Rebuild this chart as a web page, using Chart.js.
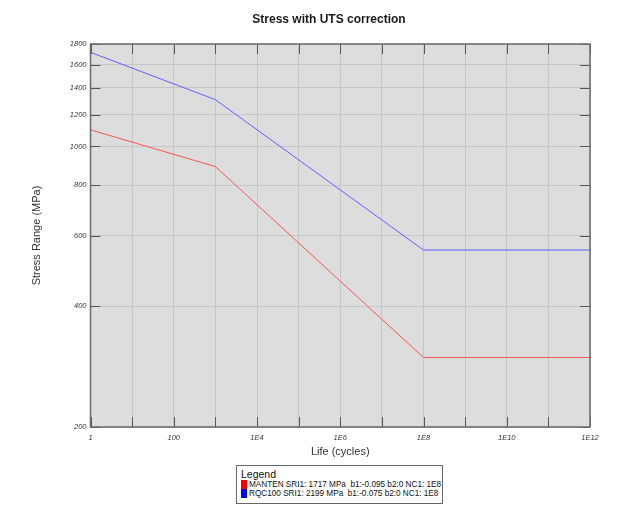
<!DOCTYPE html>
<html>
<head>
<meta charset="utf-8">
<title>Stress with UTS correction</title>
<script src="https://cdn.jsdelivr.net/npm/chart.js@4.4.1/dist/chart.umd.min.js"></script>
<style>
  body { margin: 0; background: #fff; font-family: "Liberation Sans", Arial, sans-serif; }
  #wrap { position: relative; width: 621px; height: 511px; }
  #legend {
    position: absolute; left: 236px; top: 465px; width: 205px; height: 37px;
    border: 1px solid #666; background: #fff; box-sizing: content-box;
  }
  #legend .head { font-size: 10.5px; color: #111; margin: 2px 0 0 4px; line-height: 12px; }
  #legend .row { display: flex; align-items: center; height: 9px; margin-left: 4px; }
  #legend .sw { flex: 0 0 6px; width: 6px; height: 9px; margin-right: 2px; }
  #legend .txt { font-size: 8.2px; color: #111; white-space: pre; line-height: 9px; }
</style>
</head>
<body>
<div id="wrap">
  <canvas id="snChart" width="621" height="511"></canvas>
  <div id="legend"><div class="head">Legend</div></div>
</div>
<script>
// ---- data ----
const lifeCycles = [1, 1000, 1e8, 1e12];
const mantenStress = [1100, 891, 298, 298];
const rqcStress = [1716, 1308, 552, 552];

const seriesNames = [
  "MANTEN SRI1: 1717 MPa  b1:-0.095 b2:0 NC1: 1E8",
  "RQC100 SRI1: 2199 MPa  b1:-0.075 b2:0 NC1: 1E8"
];
const lineColors = ["rgb(245, 85, 85)", "rgb(95, 95, 250)"];
const swatchColors = ["#ff0000", "#0000ff"];

const xTickValues = [1, 1e1, 1e2, 1e3, 1e4, 1e5, 1e6, 1e7, 1e8, 1e9, 1e10, 1e11, 1e12];
const xTickLabels = ["1", "", "100", "", "1E4", "", "1E6", "", "1E8", "", "1E10", "", "1E12"];
const yTickValues = [200, 400, 600, 800, 1000, 1200, 1400, 1600, 1800];
const yTickLabels = ["200", "400", "600", "800", "1000", "1200", "1400", "1600", "1800"];

function toPoints(xs, ys) {
  return xs.map((x, i) => ({ x: x, y: ys[i] }));
}

// grey plot area, frame and inward tick marks
const plotFrame = {
  id: "plotFrame",
  beforeDraw(chart) {
    const { ctx, chartArea: a } = chart;
    ctx.save();
    ctx.fillStyle = "#dddddd";
    ctx.fillRect(a.left, a.top, a.right - a.left, a.bottom - a.top);
    ctx.restore();
  },
  afterDraw(chart) {
    const { ctx, chartArea: a, scales } = chart;
    const len = 10;
    ctx.save();
    ctx.strokeStyle = "#555";
    ctx.lineWidth = 1;
    ctx.beginPath();
    scales.x.ticks.forEach(t => {
      const px = Math.round(scales.x.getPixelForValue(t.value)) + 0.5;
      ctx.moveTo(px, a.top); ctx.lineTo(px, a.top + len);
      ctx.moveTo(px, a.bottom); ctx.lineTo(px, a.bottom - len);
    });
    scales.y.ticks.forEach(t => {
      const py = Math.round(scales.y.getPixelForValue(t.value)) + 0.5;
      ctx.moveTo(a.left, py); ctx.lineTo(a.left + len, py);
      ctx.moveTo(a.right, py); ctx.lineTo(a.right - len, py);
    });
    ctx.stroke();
    ctx.strokeStyle = "#6a6a6a";
    ctx.lineWidth = 1.5;
    ctx.strokeRect(a.left, a.top, a.right - a.left, a.bottom - a.top);
    ctx.restore();
  }
};

const tickFont = { family: "'Liberation Sans', Arial, sans-serif", size: 7.5, style: "italic" };
const titleFont = { family: "'Liberation Sans', Arial, sans-serif", size: 11 };

document.addEventListener("DOMContentLoaded", () => {
  const ctx = document.getElementById("snChart").getContext("2d");
  new Chart(ctx, {
    type: "scatter",
    data: {
      datasets: [
        {
          label: seriesNames[0],
          data: toPoints(lifeCycles, mantenStress),
          showLine: true,
          borderColor: lineColors[0],
          backgroundColor: swatchColors[0],
          borderWidth: 1,
          pointRadius: 0,
          tension: 0
        },
        {
          label: seriesNames[1],
          data: toPoints(lifeCycles, rqcStress),
          showLine: true,
          borderColor: lineColors[1],
          backgroundColor: swatchColors[1],
          borderWidth: 1,
          pointRadius: 0,
          tension: 0
        }
      ]
    },
    options: {
      responsive: false,
      animation: false,
      layout: { padding: { left: 68, right: 31, top: 0, bottom: 50 } },
      plugins: {
        legend: { display: false },
        tooltip: { enabled: false },
        title: {
          display: true,
          text: "Stress with UTS correction",
          color: "#1a1a1a",
          font: { family: "'Liberation Sans', Arial, sans-serif", size: 12, weight: "bold" },
          padding: { top: 12, bottom: 17.6 }
        }
      },
      scales: {
        x: {
          type: "logarithmic",
          min: 1,
          max: 1e12,
          afterBuildTicks: s => { s.ticks = xTickValues.map(v => ({ value: v })); },
          afterFit: s => { s.height = 34; },
          ticks: {
            autoSkip: false,
            maxRotation: 0,
            padding: 6,
            color: "#333",
            font: tickFont,
            callback: (v, i) => xTickLabels[i]
          },
          grid: { color: "#c6c6c6", lineWidth: 1, drawTicks: false },
          border: { display: false },
          title: {
            display: true,
            text: "Life (cycles)",
            color: "#333",
            font: titleFont,
            padding: { top: 0, bottom: 2 }
          }
        },
        y: {
          type: "logarithmic",
          min: 200,
          max: 1800,
          afterBuildTicks: s => { s.ticks = yTickValues.map(v => ({ value: v })); },
          afterFit: s => { s.width = 22.5; },
          ticks: {
            autoSkip: false,
            padding: 4,
            color: "#333",
            font: tickFont,
            callback: (v, i) => yTickLabels[i]
          },
          grid: { color: "#c6c6c6", lineWidth: 1, drawTicks: false },
          border: { display: false },
          title: {
            display: true,
            text: "Stress Range (MPa)",
            color: "#333",
            font: titleFont,
            padding: { top: -37.6, bottom: 0 }
          }
        }
      }
    },
    plugins: [plotFrame]
  });

  // legend box under the plot, built from the series arrays
  const legend = document.getElementById("legend");
  seriesNames.forEach((name, i) => {
    const row = document.createElement("div");
    row.className = "row";
    const sw = document.createElement("span");
    sw.className = "sw";
    sw.style.background = swatchColors[i];
    const txt = document.createElement("span");
    txt.className = "txt";
    txt.textContent = name;
    row.appendChild(sw);
    row.appendChild(txt);
    legend.appendChild(row);
  });
});
</script>
</body>
</html>
